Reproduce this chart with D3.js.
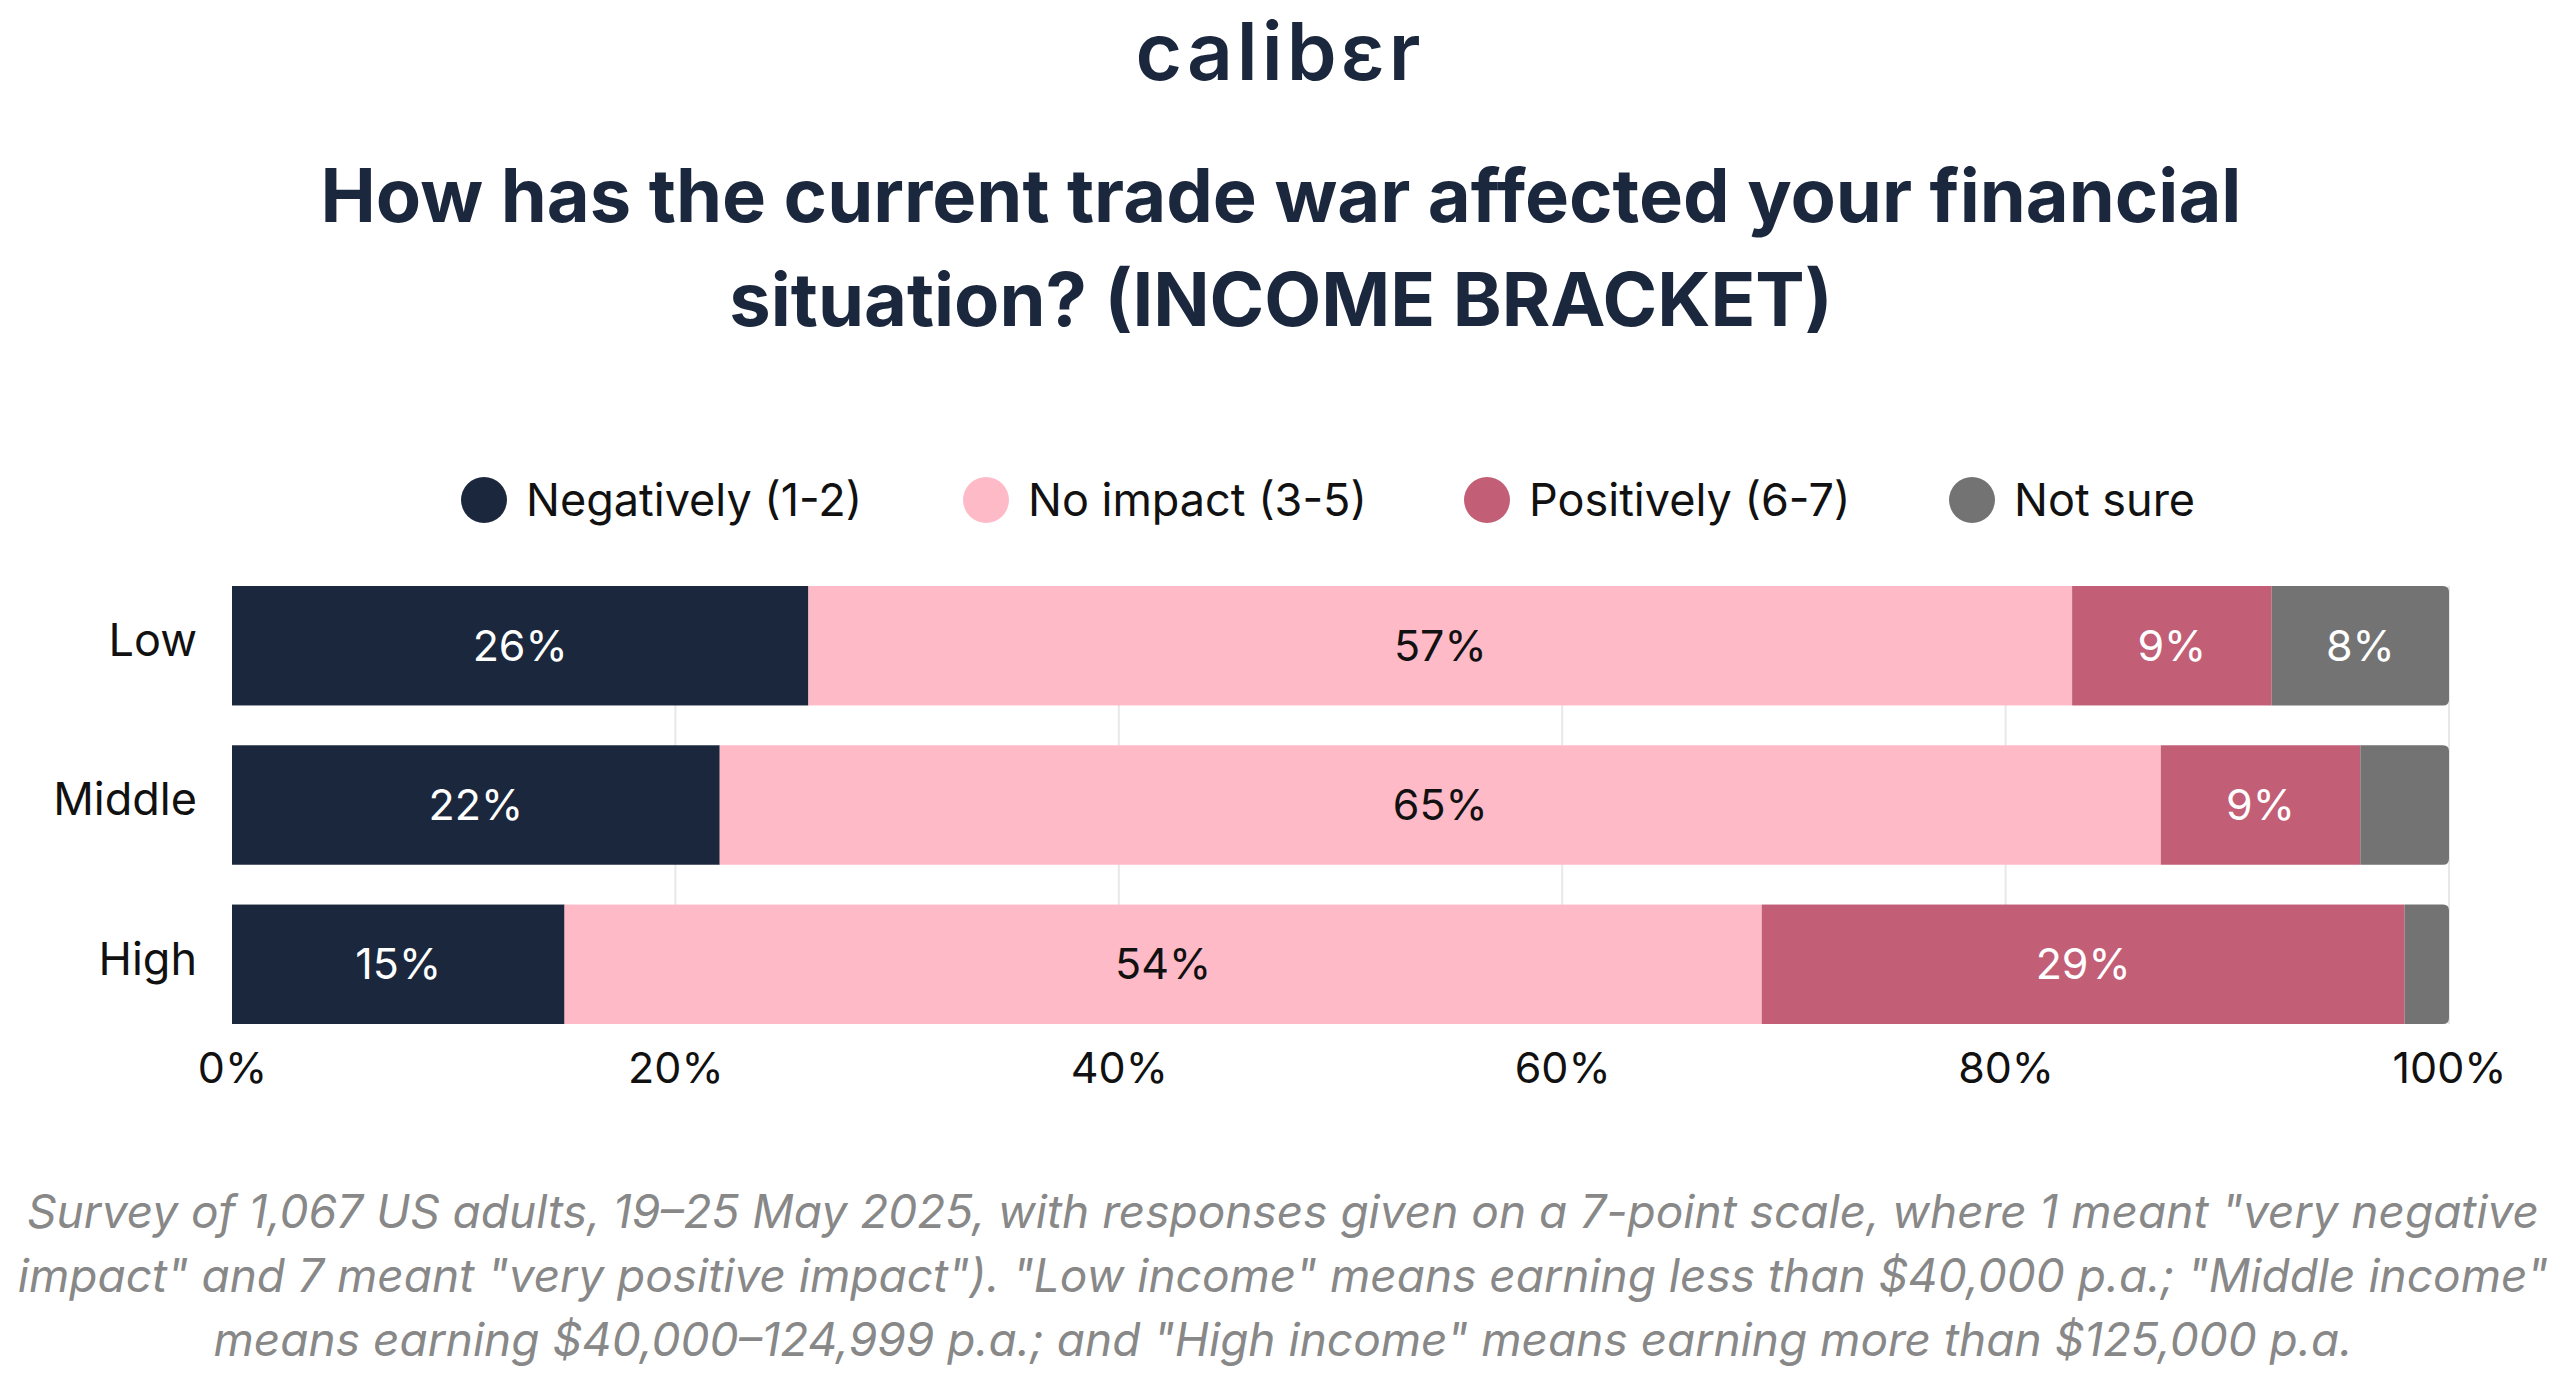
<!DOCTYPE html>
<html>
<head>
<meta charset="utf-8">
<script src="https://cdn.jsdelivr.net/npm/d3@7"></script>
<style>
  body { margin: 0; background: #fff; }
  text { font-family: Inter, "Noto Sans", sans-serif; }
</style>
</head>
<body>
<svg id="chart" width="2560" height="1384"></svg>
<script>
// data
const categories = ['Low', 'Middle', 'High'];
const seriesNames = ['Negatively (1-2)', 'No impact (3-5)', 'Positively (6-7)', 'Not sure'];
const negatively = [26, 22, 15];
const noImpact = [57, 65, 54];
const positively = [9, 9, 29];
const notSure = [8, 4, 2];
const tickValues = [0, 20, 40, 60, 80, 100];

const colors = ['#1b273d', '#ffbac8', '#c25e76', '#737373'];
const labelColors = ['#fff', '#111', '#fff', '#fff'];

const svg = d3.select('#chart');
const W = 2560;
const navy = '#1b273d';

// logo
svg.append('text').attr('x', W / 2).attr('y', 80).attr('text-anchor', 'middle')
    .attr('font-size', 80).attr('font-weight', 600).attr('fill', navy)
    .attr('letter-spacing', 4).text('calibɛr');

// title
const title = ['How has the current trade war affected your financial', 'situation? (INCOME BRACKET)'];
title.forEach((t, i) => {
    svg.append('text').attr('x', W / 2 + 1).attr('y', 222 + i * 104).attr('text-anchor', 'middle')
        .attr('font-size', 74).attr('font-weight', 700).attr('fill', navy).text(t);
});

// legend
const legendX = [484, 986, 1487, 1972];
seriesNames.forEach((s, i) => {
    const g = svg.append('g').attr('transform', `translate(${legendX[i]},500)`);
    g.append('circle').attr('r', 23).attr('fill', colors[i]);
    g.append('text').attr('x', 42).attr('dy', '0.35em').attr('font-size', 45).attr('fill', '#111').text(s);
});

// scales
const x = d3.scaleLinear().domain([0, 100]).range([232, 2449]);
const y = d3.scaleBand().domain(categories).range([586, 1024]).paddingInner(0.25).paddingOuter(0);

// gridlines
svg.append('g').selectAll('line').data(tickValues.slice(1)).join('line')
    .attr('x1', d => x(d)).attr('x2', d => x(d))
    .attr('y1', 586).attr('y2', 1024).attr('stroke', '#e8e8e8').attr('stroke-width', 2);

// stacked data
const rows = categories.map((c, i) => ({cat: c, v: [negatively[i], noImpact[i], positively[i], notSure[i]]}));
rows.forEach(r => {
    let acc = 0;
    r.v.forEach((v, k) => {
        const x0 = acc, x1 = acc + v;
        acc = x1;
        const last = k === r.v.length - 1;
        if (last) {
            const w = x(x1) - x(x0), h = y.bandwidth(), rr = 6;
            const px = x(x0), py = y(r.cat);
            svg.append('path').attr('fill', colors[k])
                .attr('d', `M${px},${py}H${px + w - rr}Q${px + w},${py} ${px + w},${py + rr}V${py + h - rr}Q${px + w},${py + h} ${px + w - rr},${py + h}H${px}Z`);
        } else {
            svg.append('rect').attr('x', x(x0)).attr('y', y(r.cat))
                .attr('width', x(x1) - x(x0)).attr('height', y.bandwidth()).attr('fill', colors[k]);
        }
        if (v >= 5) {
            svg.append('text').attr('x', (x(x0) + x(x1)) / 2).attr('y', y(r.cat) + y.bandwidth() / 2)
                .attr('dy', '0.35em').attr('text-anchor', 'middle').attr('font-size', 43)
                .attr('fill', labelColors[k]).text(v + '%');
        }
    });
});

// category axis
svg.append('g').attr('transform', 'translate(197,-4)')
    .call(d3.axisLeft(y).tickSize(0).tickPadding(0))
    .call(g => g.select('.domain').remove())
    .call(g => g.selectAll('text').attr('font-size', 45).attr('fill', '#111').attr('font-family', 'Inter, sans-serif'));

// x axis
svg.append('g').attr('transform', 'translate(0,1040)')
    .call(d3.axisBottom(x).tickValues(tickValues).tickFormat(d => d + '%').tickSize(0).tickPadding(0))
    .call(g => g.select('.domain').remove())
    .call(g => g.selectAll('text').attr('font-size', 43).attr('fill', '#111').attr('dy', '1em').attr('font-family', 'Inter, sans-serif'));

// footnote
const notes = [
    'Survey of 1,067 US adults, 19\u201325 May 2025, with responses given on a 7-point scale, where 1 meant "very negative',
    'impact" and 7 meant "very positive impact"). "Low income" means earning less than $40,000 p.a.; "Middle income"',
    'means earning $40,000\u2013124,999 p.a.; and "High income" means earning more than $125,000 p.a.'
];
notes.forEach((t, i) => {
    svg.append('text').attr('x', W / 2 + 3).attr('y', 1228 + i * 64).attr('text-anchor', 'middle')
        .attr('font-size', 46).attr('font-style', 'italic').attr('fill', '#888').text(t);
});
</script>
</body>
</html>
